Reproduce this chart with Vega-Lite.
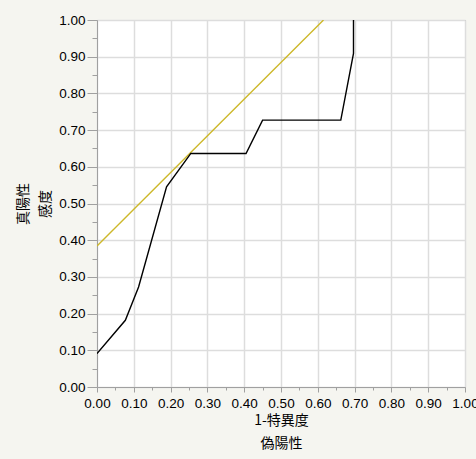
{
  "$schema": "https://vega.github.io/schema/vega-lite/v6.json",
  "autosize": {"type": "none"},
  "width": 368,
  "height": 367,
  "padding": {"left": 97, "top": 20, "right": 11, "bottom": 72},
  "background": "#f5f5f0",
  "config": {
    "view": {"fill": "#ffffff", "stroke": "#a0a0a0", "strokeWidth": 1},
    "axis": {
      "labelFont": "Liberation Sans",
      "labelFontSize": 13.5,
      "labelColor": "#000000",
      "labelOverlap": false,
      "labelFlush": false,
      "titleFont": "Noto Sans CJK JP",
      "titleFontSize": 14,
      "titleFontWeight": "normal",
      "titleColor": "#000000",
      "domainColor": "#a0a0a0",
      "tickColor": "#a0a0a0",
      "gridColor": "#dddddd",
      "gridWidth": 1.5
    }
  },
  "resolve": {"axis": {"x": "independent", "y": "independent"}},
  "datasets": {
    "roc": [
      {"fp": 0.0, "tp": 0.0909, "order": 1},
      {"fp": 0.077, "tp": 0.1818, "order": 2},
      {"fp": 0.113, "tp": 0.2727, "order": 3},
      {"fp": 0.189, "tp": 0.5455, "order": 4},
      {"fp": 0.255, "tp": 0.6364, "order": 5},
      {"fp": 0.405, "tp": 0.6364, "order": 6},
      {"fp": 0.45, "tp": 0.7273, "order": 7},
      {"fp": 0.6625, "tp": 0.7273, "order": 8},
      {"fp": 0.697, "tp": 0.9091, "order": 9},
      {"fp": 0.697, "tp": 1.0, "order": 10}
    ],
    "tangent": [
      {"fp": 0.0, "tp": 0.3845, "order": 1},
      {"fp": 0.6155, "tp": 1.0, "order": 2}
    ]
  },
  "layer": [
    {
      "data": {"name": "tangent"},
      "mark": {"type": "line", "color": "#cdb82a", "strokeWidth": 1.4, "clip": true},
      "encoding": {
        "x": {
          "field": "fp", "type": "quantitative",
          "scale": {"domain": [0, 1], "nice": false},
          "axis": {
            "orient": "bottom",
            "title": ["1-特異度", "偽陽性"],
            "titleLineHeight": 23,
            "titlePadding": 4,
            "values": [0, 0.1, 0.2, 0.3, 0.4, 0.5, 0.6, 0.7, 0.8, 0.9, 1.0],
            "format": ".2f",
            "labelPadding": 4,
            "tickSize": 5,
            "grid": true
          }
        },
        "y": {
          "field": "tp", "type": "quantitative",
          "scale": {"domain": [0, 1], "nice": false},
          "axis": {
            "orient": "left",
            "title": ["真陽性", "感度"],
            "titleLineHeight": 22,
            "titlePadding": 6,
            "values": [0, 0.1, 0.2, 0.3, 0.4, 0.5, 0.6, 0.7, 0.8, 0.9, 1.0],
            "format": ".2f",
            "labelPadding": 2,
            "tickSize": 10,
            "grid": true
          }
        },
        "order": {"field": "order", "type": "quantitative"}
      }
    },
    {
      "data": {"name": "roc"},
      "mark": {"type": "line", "color": "#000000", "strokeWidth": 1.4, "clip": true},
      "encoding": {
        "x": {
          "field": "fp", "type": "quantitative",
          "axis": {
            "orient": "bottom",
            "title": null,
            "values": [0.05, 0.15, 0.25, 0.35, 0.45, 0.55, 0.65, 0.75, 0.85, 0.95],
            "labels": false,
            "domain": false,
            "grid": false,
            "tickSize": 3
          }
        },
        "y": {
          "field": "tp", "type": "quantitative",
          "axis": {
            "orient": "left",
            "title": null,
            "values": [0.05, 0.15, 0.25, 0.35, 0.45, 0.55, 0.65, 0.75, 0.85, 0.95],
            "labels": false,
            "domain": false,
            "grid": false,
            "tickSize": 5
          }
        },
        "order": {"field": "order", "type": "quantitative"}
      }
    }
  ]
}
